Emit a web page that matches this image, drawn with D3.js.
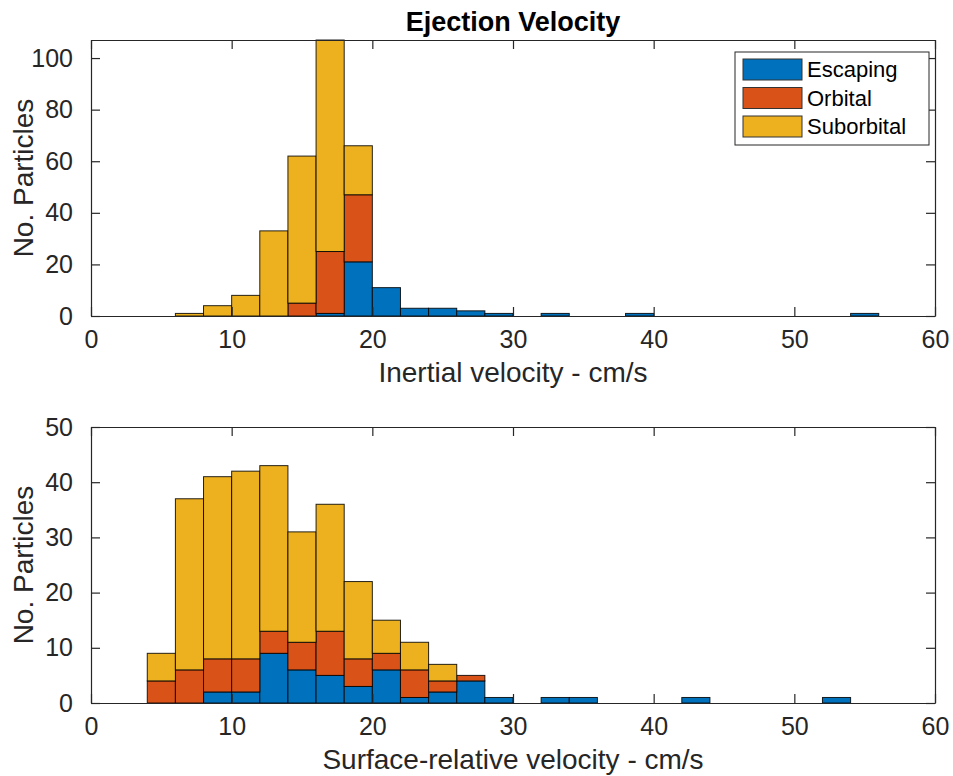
<!DOCTYPE html>
<html>
<head>
<meta charset="utf-8">
<script src="https://cdn.jsdelivr.net/npm/d3@7"></script>
<style>
  html, body { margin: 0; padding: 0; background: #fff; }
  svg { display: block; font-family: "Liberation Sans", Arial, Helvetica, sans-serif; }
</style>
</head>
<body>
<svg id="chart" width="953" height="776"></svg>
<script>
// ---- Data ----
const binStarts = [0,2,4,6,8,10,12,14,16,18,20,22,24,26,28,30,32,34,36,38,40,42,44,46,48,50,52,54,56,58];
const binWidth = 2;
const seriesNames = ["Escaping", "Orbital", "Suborbital"];
const seriesColors = ["#0072BD", "#D95319", "#EDB120"];

const inertialEscaping   = [0,0,0,0,0,0,0,0,1,21,11,3,3,2,1,0,1,0,0,1,0,0,0,0,0,0,0,1,0,0];
const inertialOrbital    = [0,0,0,0,0,0,0,5,24,26,0,0,0,0,0,0,0,0,0,0,0,0,0,0,0,0,0,0,0,0];
const inertialSuborbital = [0,0,0,1,4,8,33,57,82,19,0,0,0,0,0,0,0,0,0,0,0,0,0,0,0,0,0,0,0,0];

const surfaceEscaping    = [0,0,0,0,2,2,9,6,5,3,6,1,2,4,1,0,1,1,0,0,0,1,0,0,0,0,1,0,0,0];
const surfaceOrbital     = [0,0,4,6,6,6,4,5,8,5,3,5,2,1,0,0,0,0,0,0,0,0,0,0,0,0,0,0,0,0];
const surfaceSuborbital  = [0,0,5,31,33,34,30,20,23,14,6,5,3,0,0,0,0,0,0,0,0,0,0,0,0,0,0,0,0,0];

const xTicks = [0,10,20,30,40,50,60];
const topYTicks = [0,20,40,60,80,100];
const bottomYTicks = [0,10,20,30,40,50];

const titleText = "Ejection Velocity";
const yLabelText = "No. Particles";
const topXLabel = "Inertial velocity - cm/s";
const bottomXLabel = "Surface-relative velocity - cm/s";

// ---- Drawing ----
const svg = d3.select("#chart");
const left = 91, right = 935;
const axisColor = "#262626";
const tickLen = 9;
const fontTick = 25, fontLabel = 28;

function makeTable(e, o, s) {
  return binStarts.map((b, i) => ({ x0: b, Escaping: e[i], Orbital: o[i], Suborbital: s[i] }));
}

function drawPanel(opt) {
  const { top, bottom, yMax, yTicks, table, xLabel } = opt;
  const x = d3.scaleLinear().domain([0, 60]).range([left, right]);
  const y = d3.scaleLinear().domain([0, yMax]).range([bottom, top]);
  const g = svg.append("g");

  // bars
  const stack = d3.stack().keys(seriesNames)(table);
  stack.forEach((layer, li) => {
    g.append("g").selectAll("rect")
      .data(layer.filter(d => d[1] - d[0] > 0))
      .join("rect")
      .attr("x", d => x(d.data.x0))
      .attr("width", d => x(d.data.x0 + binWidth) - x(d.data.x0))
      .attr("y", d => y(d[1]))
      .attr("height", d => y(d[0]) - y(d[1]))
      .attr("fill", seriesColors[li])
      .attr("stroke", "#000")
      .attr("stroke-width", 1)
      .attr("stroke-opacity", 0.85);
  });

  // axes (ticks inward)
  const xAxisB = d3.axisBottom(x).tickValues(xTicks).tickSizeInner(-tickLen).tickSizeOuter(0).tickPadding(14);
  const xAxisT = d3.axisTop(x).tickValues(xTicks).tickSizeInner(-tickLen).tickSizeOuter(0).tickFormat("");
  const yAxisL = d3.axisLeft(y).tickValues(yTicks).tickSizeInner(-tickLen).tickSizeOuter(0).tickPadding(18);
  const yAxisR = d3.axisRight(y).tickValues(yTicks).tickSizeInner(-tickLen).tickSizeOuter(0).tickFormat("");

  const styleAxis = sel => {
    sel.selectAll("path").attr("stroke", axisColor).attr("stroke-width", 1.2);
    sel.selectAll("line").attr("stroke", axisColor).attr("stroke-width", 1.2);
    sel.selectAll("text").attr("fill", "#262626").attr("font-size", fontTick)
      .attr("font-family", "'Liberation Sans', Arial, Helvetica, sans-serif");
  };

  g.append("g").attr("transform", `translate(0,${bottom})`).call(xAxisB).call(styleAxis);
  g.append("g").attr("transform", `translate(0,${top})`).call(xAxisT).call(styleAxis);
  g.append("g").attr("transform", `translate(${left},0)`).call(yAxisL).call(styleAxis);
  g.append("g").attr("transform", `translate(${right},0)`).call(yAxisR).call(styleAxis);

  // x label
  g.append("text")
    .attr("x", (left + right) / 2)
    .attr("y", bottom + 66)
    .attr("text-anchor", "middle")
    .attr("font-size", fontLabel)
    .attr("fill", "#262626")
    .text(xLabel);

  // y label
  g.append("text")
    .attr("transform", `translate(33,${(top + bottom) / 2}) rotate(-90)`)
    .attr("text-anchor", "middle")
    .attr("font-size", fontLabel)
    .attr("fill", "#262626")
    .text(yLabelText);

  return { x, y, g };
}

const topPanel = drawPanel({
  top: 40, bottom: 316, yMax: 107, yTicks: topYTicks,
  table: makeTable(inertialEscaping, inertialOrbital, inertialSuborbital),
  xLabel: topXLabel
});

drawPanel({
  top: 427, bottom: 703, yMax: 50, yTicks: bottomYTicks,
  table: makeTable(surfaceEscaping, surfaceOrbital, surfaceSuborbital),
  xLabel: bottomXLabel
});

// title
svg.append("text")
  .attr("x", (left + right) / 2)
  .attr("y", 31)
  .attr("text-anchor", "middle")
  .attr("font-size", 27)
  .attr("font-weight", "bold")
  .attr("fill", "#000")
  .text(titleText);

// legend
const lg = svg.append("g").attr("transform", "translate(735,52)");
lg.append("rect").attr("width", 194).attr("height", 93)
  .attr("fill", "#fff").attr("stroke", axisColor).attr("stroke-width", 1);
seriesNames.forEach((name, i) => {
  const row = lg.append("g").attr("transform", `translate(0,${7 + i * 28.5})`);
  row.append("rect").attr("x", 8).attr("y", 0).attr("width", 59).attr("height", 21)
    .attr("fill", seriesColors[i]).attr("stroke", "#333").attr("stroke-width", 1);
  row.append("text").attr("x", 72).attr("y", 18).attr("font-size", 22).attr("fill", "#000").text(name);
});
</script>
</body>
</html>
